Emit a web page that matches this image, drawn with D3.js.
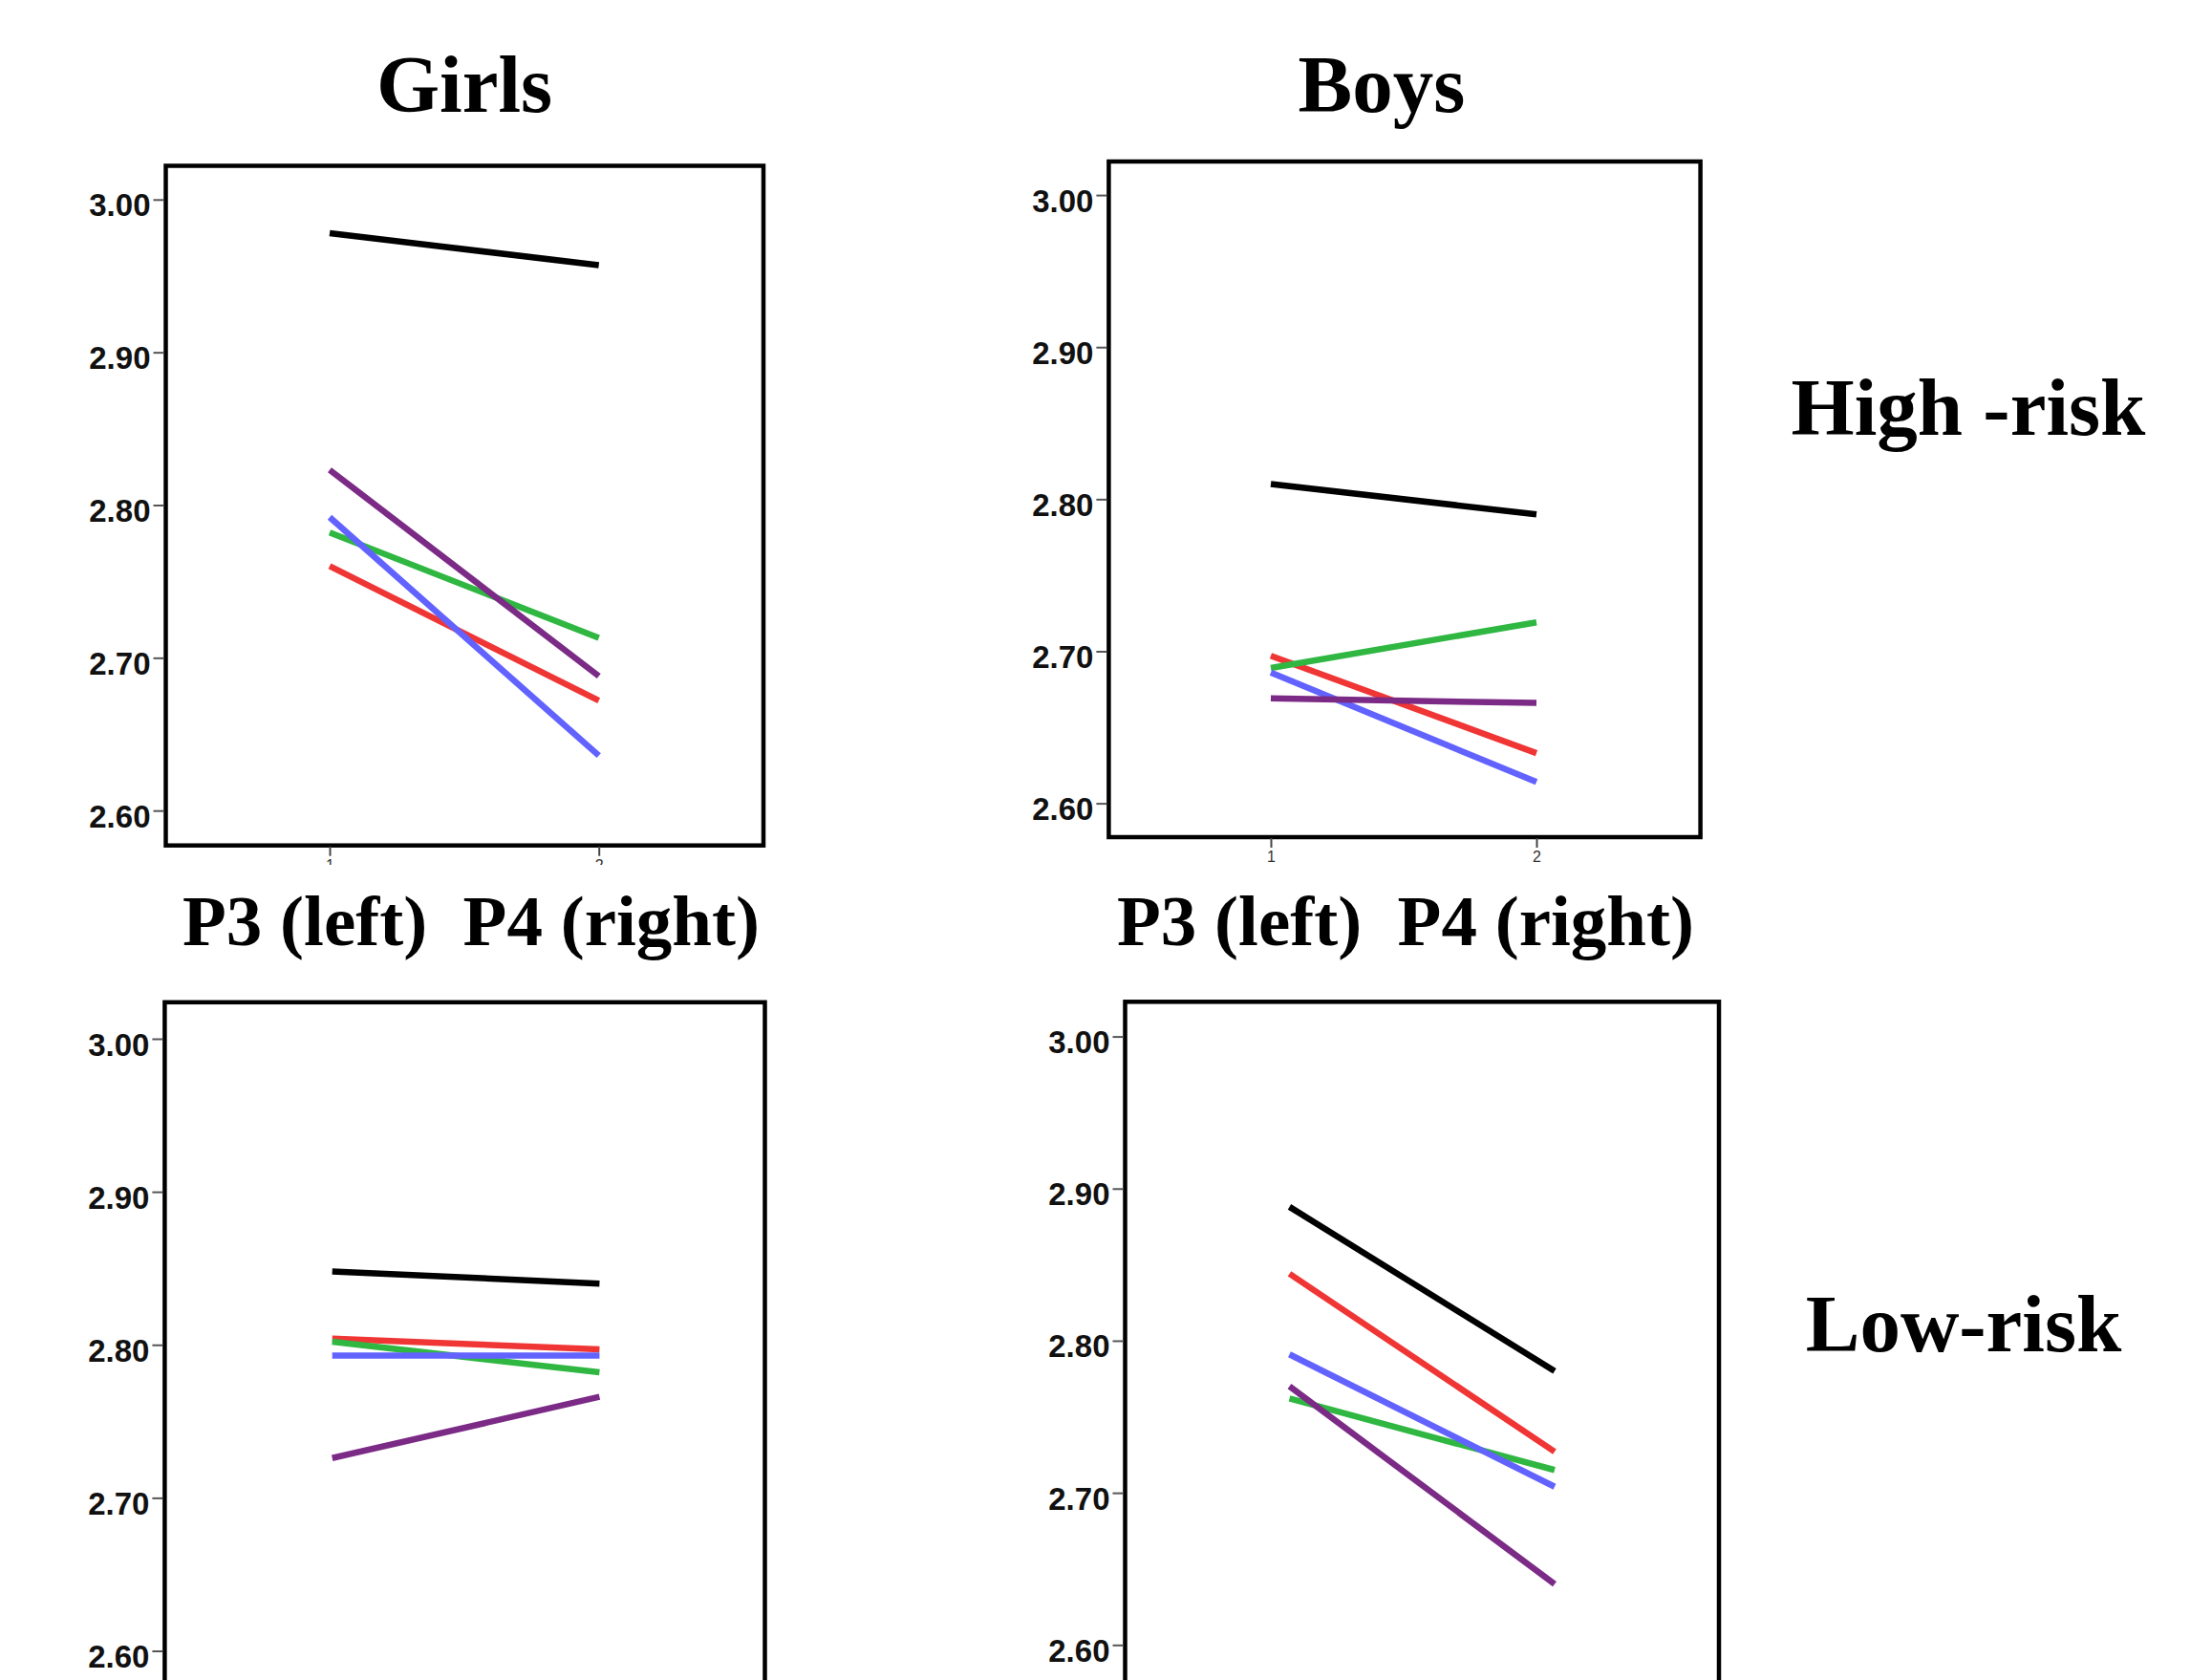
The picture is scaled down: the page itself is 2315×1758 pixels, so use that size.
<!DOCTYPE html>
<html>
<head>
<meta charset="utf-8">
<script src="https://cdn.jsdelivr.net/npm/d3@7"></script>
<style>
  html, body { margin: 0; padding: 0; background: #fff; }
  svg { display: block; }
</style>
</head>
<body>
<script>
// ---------------- data ----------------
const columns = ["Girls", "Boys"];
const rows = ["High -risk", "Low-risk"];
const xLabel = "P3 (left)  P4 (right)";
const xTicks = [1, 2];
const yTicks = [2.60, 2.70, 2.80, 2.90, 3.00];
// series drawn in this order (later on top)
const seriesColors = ["#000000", "#f03535", "#2fb742", "#6262ff", "#7b2b86"];

// values at P3 (x=1) and P4 (x=2) for each series, same order as seriesColors
const girlsHighP3 = [2.978, 2.760, 2.782, 2.792, 2.823];
const girlsHighP4 = [2.957, 2.672, 2.713, 2.636, 2.688];
const boysHighP3  = [2.810, 2.697, 2.689, 2.686, 2.669];
const boysHighP4  = [2.790, 2.633, 2.719, 2.614, 2.666];
const girlsLowP3  = [2.848, 2.804, 2.802, 2.793, 2.726];
const girlsLowP4  = [2.840, 2.797, 2.782, 2.793, 2.766];
const boysLowP3   = [2.888, 2.844, 2.762, 2.791, 2.770];
const boysLowP4   = [2.780, 2.727, 2.715, 2.704, 2.640];

// ---------------- layout ----------------
const W = 2315, H = 1758;
const panels = [
  { p3: girlsHighP3, p4: girlsHighP4, box: [173.5, 799, 173.5, 884.7], yr: [848.2, 208.8], xr: [345, 626.7], xAxis: true, clipX: 905 },
  { p3: boysHighP3,  p4: boysHighP4,  box: [1160.4, 1779.6, 169, 876], yr: [840.6, 204.1], xr: [1330, 1608], xAxis: true, clipX: null },
  { p3: girlsLowP3,  p4: girlsLowP4,  box: [172.4, 800.5, 1048.8, 1764], yr: [1727.5, 1087], xr: [347.7, 627.4], xAxis: false },
  { p3: boysLowP3,   p4: boysLowP4,   box: [1177.5, 1799, 1048.3, 1758 + 6], yr: [1721.3, 1084.6], xr: [1349.5, 1627], xAxis: false }
];

const svg = d3.select("body").append("svg")
  .attr("width", W).attr("height", H)
  .attr("viewBox", `0 0 ${W} ${H}`);

svg.append("rect").attr("width", W).attr("height", H).attr("fill", "#fff");

const serif = "'Liberation Serif', 'Times New Roman', serif";
const sans = "'Liberation Sans', Arial, sans-serif";

panels.forEach((p, i) => {
  const g = svg.append("g");
  const y = d3.scaleLinear().domain([2.60, 3.00]).range(p.yr);
  const x = d3.scaleLinear().domain([1, 2]).range(p.xr);
  const [bl, br, bt, bb] = p.box;

  // lines
  seriesColors.forEach((c, k) => {
    const pts = [[1, p.p3[k]], [2, p.p4[k]]];
    g.append("path")
      .attr("d", d3.line().x(d => x(d[0])).y(d => y(d[1]))(pts))
      .attr("fill", "none")
      .attr("stroke", c)
      .attr("stroke-width", 6.5);
  });

  // frame
  g.append("rect")
    .attr("x", bl).attr("y", bt)
    .attr("width", br - bl).attr("height", bb - bt)
    .attr("fill", "none").attr("stroke", "#000").attr("stroke-width", 4.5);

  // y axis
  const ya = g.append("g")
    .attr("transform", `translate(${bl - 2},0)`)
    .call(d3.axisLeft(y).tickValues(yTicks).tickFormat(d3.format(".2f")).tickSize(11).tickPadding(3));
  ya.select(".domain").remove();
  ya.selectAll(".tick line").attr("stroke", "#555").attr("stroke-width", 2);
  ya.selectAll(".tick text")
    .attr("dy", "17")
    .attr("fill", "#111")
    .style("font-family", sans)
    .style("font-weight", "bold")
    .style("font-size", "33px");

  // x axis
  if (p.xAxis) {
    const xg = g.append("g");
    if (p.clipX) {
      const cid = "clipx" + i;
      svg.append("clipPath").attr("id", cid)
        .append("rect").attr("x", 0).attr("y", 0).attr("width", W).attr("height", p.clipX);
      xg.attr("clip-path", `url(#${cid})`);
    }
    const xa = xg.append("g")
      .attr("transform", `translate(0,${bb + 1})`)
      .call(d3.axisBottom(x).tickValues(xTicks).tickFormat(d3.format("d")).tickSize(10).tickPadding(4));
    xa.select(".domain").remove();
    xa.selectAll(".tick line").attr("stroke", "#444").attr("stroke-width", 2);
    xa.selectAll(".tick text")
      .attr("fill", "#333")
      .style("font-family", sans)
      .style("font-size", "16px");
  }
});

// titles
const titleStyle = sel => sel
  .style("font-family", serif)
  .style("font-weight", "bold")
  .style("font-size", "85px")
  .attr("text-anchor", "middle")
  .attr("fill", "#000");

svg.append("text").attr("x", 486).attr("y", 117).text(columns[0]).call(titleStyle);
svg.append("text").attr("x", 1446).attr("y", 117).text(columns[1]).call(titleStyle);
svg.append("text").attr("x", 2060).attr("y", 455).text(rows[0]).call(titleStyle);
svg.append("text").attr("x", 2055).attr("y", 1414).text(rows[1]).call(titleStyle);

[493, 1471].forEach(cx => {
  svg.append("text")
    .attr("x", cx).attr("y", 989)
    .style("white-space", "pre")
    .attr("xml:space", "preserve")
    .text(xLabel)
    .call(titleStyle)
    .style("font-size", "75px");
});
</script>
</body>
</html>
